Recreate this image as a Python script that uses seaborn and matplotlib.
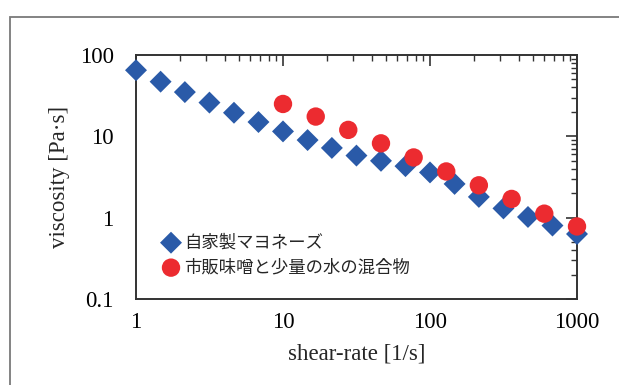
import matplotlib
matplotlib.use("Agg")
import numpy as np
import pandas as pd
import matplotlib.pyplot as plt
import seaborn as sns
from matplotlib.patches import Rectangle
from matplotlib.ticker import LogLocator, NullFormatter, FixedLocator, FixedFormatter

# data
mayo_rate = [1, 1.47, 2.15, 3.16, 4.64, 6.81, 10, 14.7, 21.5, 31.6, 46.4, 68.1,
             100, 147, 215, 316, 464, 681, 1000]
mayo_visc = [65, 47, 35, 26, 19.5, 15, 11.5, 9.0, 7.2, 5.8, 5.0, 4.3,
             3.6, 2.6, 1.8, 1.3, 1.02, 0.8, 0.63]
miso_rate = [10, 16.7, 27.8, 46.4, 77.4, 129, 215, 359, 599, 1000]
miso_visc = [25, 17.5, 12, 8.2, 5.5, 3.7, 2.5, 1.7, 1.12, 0.78]
labels = ["自家製マヨネーズ", "市販味噌と少量の水の混合物"]
x_ticks = [1, 10, 100, 1000]
y_ticks = [0.1, 1, 10, 100]

sns.set_style("white")
plt.rcParams['font.family'] = ['Liberation Serif', 'DejaVu Serif']

mayo = pd.DataFrame({'rate': mayo_rate, 'visc': mayo_visc})
miso = pd.DataFrame({'rate': miso_rate, 'visc': miso_visc})

fig = plt.figure(figsize=(6.19, 3.85), dpi=100)
ax = fig.add_axes([136 / 619, 1 - 299 / 385, 441 / 619, 244 / 385])

# outer gray frame
fig.patches.append(Rectangle((10 / 619, -0.1), 1.2, 1 - 17 / 385 + 0.1,
                             transform=fig.transFigure, fill=False,
                             edgecolor='#7a7a7a', linewidth=1.3))

sns.scatterplot(data=mayo, x='rate', y='visc', marker='D', s=125, color='#2a5aa8',
                edgecolor='none', label=labels[0], ax=ax, clip_on=False, zorder=3)
sns.scatterplot(data=miso, x='rate', y='visc', marker='o', s=175, color='#ec2b30',
                edgecolor='none', label=labels[1], ax=ax, clip_on=False, zorder=4)

ax.set_xscale('log')
ax.set_yscale('log')
ax.set_xlim(1, 1000)
ax.set_ylim(0.1, 100)
ax.xaxis.set_major_locator(FixedLocator(x_ticks))
ax.xaxis.set_major_formatter(FixedFormatter([str(v) for v in x_ticks]))
ax.yaxis.set_major_locator(FixedLocator(y_ticks))
ax.yaxis.set_major_formatter(FixedFormatter(['0.1', '1', '10', '100']))
ax.xaxis.set_minor_locator(LogLocator(base=10, subs=np.arange(2, 10)))
ax.yaxis.set_minor_locator(LogLocator(base=10, subs=np.arange(2, 10)))
ax.xaxis.set_minor_formatter(NullFormatter())
ax.yaxis.set_minor_formatter(NullFormatter())

ax.tick_params(which='both', direction='in', top=True, right=True,
               colors='#333333', labelcolor='black', labelsize=16.5)
ax.tick_params(which='major', length=8, width=1.2)
ax.tick_params(which='minor', length=4, width=1.0)
ax.tick_params(axis='x', pad=9)
ax.tick_params(axis='y', pad=16)
for sp in ax.spines.values():
    sp.set_color('#333333')
    sp.set_linewidth(1.4)

ax.set_xlabel('shear-rate [1/s]', fontsize=16.5, labelpad=8)
ax.set_ylabel('viscosity [Pa·s]', fontsize=16.5, labelpad=7)

ax.legend(loc='lower left', bbox_to_anchor=(0.04, 0.065), frameon=False,
          prop={'family': ['Noto Sans CJK JP', 'DejaVu Sans'], 'size': 12.5},
          handletextpad=0.15, labelspacing=0.4, borderaxespad=0, handlelength=1.2)

fig.savefig('out.png', dpi=100)
